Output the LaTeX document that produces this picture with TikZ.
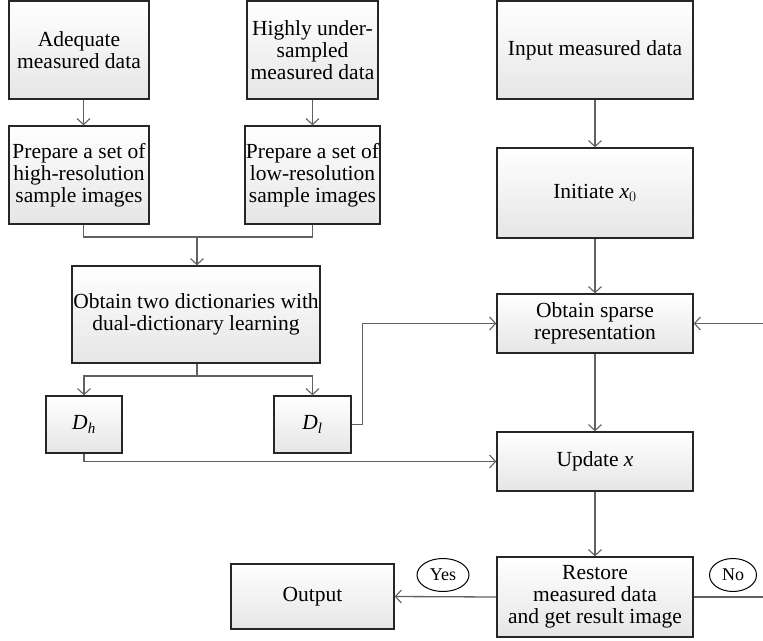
\documentclass[tikz,border=0pt]{standalone}
\usepackage{amsmath}
\usepackage{fontspec}
\setmainfont{Liberation Serif}
\usetikzlibrary{arrows.meta,shapes.geometric,calc}
\begin{document}
\begin{tikzpicture}[x=1pt,y=-1pt,
  box/.style={draw=black!85, line width=1.4pt, top color=white, bottom color=black!10,
    align=center, font=\fontsize{21.5}{22}\selectfont, inner sep=1pt},
  arr/.style={draw=black!62, line width=1.3pt, -{Straight Barb[length=6pt,width=13pt,line width=1.1pt]}},
  ln/.style={draw=black!62, line width=1.3pt},
  lab/.style={draw=black, line width=1pt, ellipse, fill=white, inner sep=0pt,
    font=\fontsize{18}{18}\selectfont}]
\useasboundingbox (0,0) rectangle (763,640);
% boxes
\node[box, minimum width=140pt, minimum height=98pt] (A) at (79,50) {Adequate\\measured data};
\node[box, minimum width=131pt, minimum height=98pt] (B) at (312.5,50) {Highly under-\\sampled\\measured data};
\node[box, minimum width=140pt, minimum height=98pt] (C) at (79,175) {Prepare a set of\\high-resolution\\sample images};
\node[box, minimum width=131pt, minimum height=98pt] (D) at (312.5,175) {Prepare a set of\\low-resolution\\sample images};
\node[box, minimum width=248pt, minimum height=97pt] (E) at (196,314.5) {Obtain two dictionaries with\\dual-dictionary learning};
\node[box, minimum width=76pt, minimum height=57pt] (Dh) at (84,424.5) {\textit{D}$_{\textit{h}}$};
\node[box, minimum width=77pt, minimum height=57pt] (Dl) at (312.5,424.5) {\textit{D}$_{\textit{l}}$};
\node[box, minimum width=196pt, minimum height=98pt] (In) at (595,50) {Input measured data};
\node[box, minimum width=196pt, minimum height=90pt] (Init) at (595,193) {Initiate \textit{x}$_{0}$};
\node[box, minimum width=196pt, minimum height=59pt] (Sp) at (595,323.5) {Obtain sparse\\representation};
\node[box, minimum width=196pt, minimum height=59pt] (Up) at (595,461.5) {Update \textit{x}};
\node[box, minimum width=196pt, minimum height=80pt] (Re) at (595,597) {Restore\\measured data\\and get result image};
\node[box, minimum width=163pt, minimum height=65pt] (Out) at (312.5,596.5) {Output};
\node[lab, minimum width=52pt, minimum height=33pt] (Yes) at (443,575) {Yes};
\node[lab, minimum width=47pt, minimum height=33pt] (No) at (733,575) {No};
% helper coordinates
\coordinate (colL) at (83.5,0);
\coordinate (merge) at (197,237);
\coordinate (split) at (197,376);
\coordinate (dlx) at (362.5,0);
\coordinate (dhy) at (0,461.5);
\coordinate (rightA) at (763,323.5);
\coordinate (rightB) at (763,597);
% connectors
\draw[arr] (A.south -| colL) -- (C.north -| colL);
\draw[arr] (B.south) -- (D.north);
\draw[ln] (C.south -| colL) |- (merge) -| (D.south);
\draw[arr] (merge) -- (E.north -| merge);
\draw[ln] (E.south -| split) -- (split);
\draw[arr] (split) -| (Dh.north);
\draw[arr] (split) -| (Dl.north);
\draw[arr] (Dl.east) -| (dlx |- Sp.west) -- (Sp.west);
\draw[arr] (Dh.south) |- (Up.west);
\draw[arr] (In.south) -- (Init.north);
\draw[arr] (Init.south) -- (Sp.north);
\draw[arr] (Sp.south) -- (Up.north);
\draw[arr] (Up.south) -- (Re.north);
\draw[arr] (Re.west) -- (Out.east);
\draw[ln] (Re.east) -- (rightB);
\draw[arr] (rightA) -- (Sp.east);
\end{tikzpicture}
\end{document}
